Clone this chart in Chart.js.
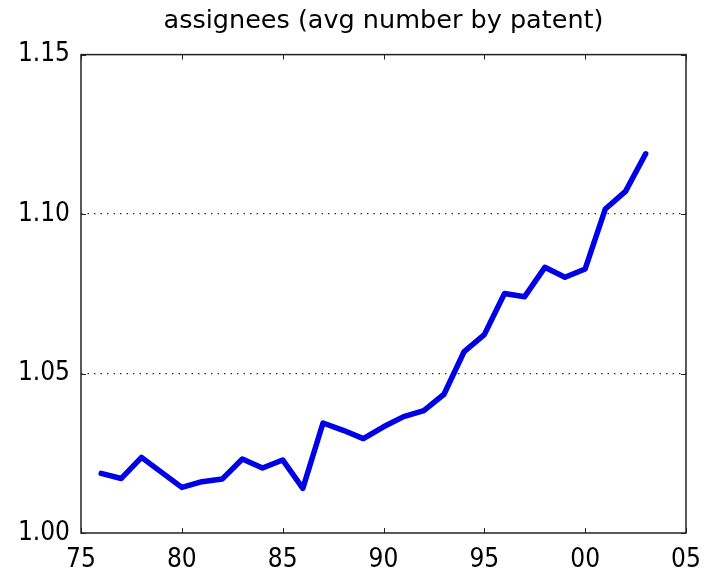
<!DOCTYPE html>
<html>
<head>
<meta charset="utf-8">
<script src="https://cdn.jsdelivr.net/npm/chart.js@4"></script>
<style>
  html, body { margin: 0; padding: 0; background: #fff; }
  #wrap { width: 704px; height: 578px; }
</style>
</head>
<body>
<div id="wrap"><canvas id="myChart" width="704" height="578"></canvas></div>
<script>
// years (19xx / 20xx) and average assignees per patent
var years = [1976, 1977, 1978, 1979, 1980, 1981, 1982, 1983, 1984, 1985, 1986, 1987, 1988, 1989,
             1990, 1991, 1992, 1993, 1994, 1995, 1996, 1997, 1998, 1999, 2000, 2001, 2002, 2003];
var assignees = [1.0187, 1.0171, 1.0237, 1.0190, 1.0143, 1.0161, 1.0169, 1.0232, 1.0204, 1.0229,
                 1.0140, 1.0345, 1.0322, 1.0296, 1.0333, 1.0365, 1.0384, 1.0435, 1.0569, 1.0622,
                 1.0751, 1.0741, 1.0833, 1.0802, 1.0828, 1.1016, 1.1071, 1.1189];
var xTicks = [1975, 1980, 1985, 1990, 1995, 2000, 2005];
var yTicks = [1.00, 1.05, 1.10, 1.15];
var titleText = 'assignees (avg number by patent)';

var points = [];
for (var i = 0; i < years.length; i++) {
    points.push({x: years[i], y: assignees[i]});
}

// box around plot plus short inward ticks on all four sides
var framePlugin = {
    id: 'frame',
    afterDraw: function(chart) {
        var ctx = chart.ctx, a = chart.chartArea;
        var xs = chart.scales.x, ys = chart.scales.y;
        var len = 5;
        ctx.save();
        ctx.strokeStyle = '#222';
        ctx.lineWidth = 1.5;
        ctx.strokeRect(a.left, a.top, a.right - a.left, a.bottom - a.top);
        ctx.lineWidth = 1;
        ctx.beginPath();
        xTicks.forEach(function(t) {
            var px = Math.round(xs.getPixelForValue(t)) + 0.5;
            ctx.moveTo(px, a.bottom); ctx.lineTo(px, a.bottom - len);
            ctx.moveTo(px, a.top); ctx.lineTo(px, a.top + len);
        });
        yTicks.forEach(function(t) {
            var py = Math.round(ys.getPixelForValue(t)) + 0.5;
            ctx.moveTo(a.left, py); ctx.lineTo(a.left + len, py);
            ctx.moveTo(a.right, py); ctx.lineTo(a.right - len, py);
        });
        ctx.stroke();
        ctx.restore();
    }
};

var tickFont = {family: '"DejaVu Sans Condensed", "DejaVu Sans", sans-serif', size: 26};

var ctx = document.getElementById('myChart').getContext('2d');
var myChart = new Chart(ctx, {
    type: 'line',
    data: {
        datasets: [{
            label: 'assignees',
            data: points,
            borderColor: '#0000E6',
            backgroundColor: '#0000E6',
            borderWidth: 5.5,
            pointRadius: 0,
            tension: 0,
            borderJoinStyle: 'round',
            borderCapStyle: 'round'
        }]
    },
    options: {
        responsive: false,
        animation: false,
        layout: {padding: {left: 0, right: 18, top: 0, bottom: 0}},
        plugins: {
            legend: {display: false},
            tooltip: {enabled: false},
            title: {
                display: true,
                text: titleText,
                fullSize: false,
                color: '#000',
                font: {family: '"DejaVu Sans", sans-serif', size: 25.5, weight: 'normal'},
                padding: {top: 6, bottom: 18}
            }
        },
        scales: {
            x: {
                type: 'linear',
                min: 1975,
                max: 2005,
                afterBuildTicks: function(scale) {
                    scale.ticks = xTicks.map(function(v) { return {value: v}; });
                },
                afterFit: function(scale) {
                    scale.height = 45;
                    scale.paddingLeft = 0;
                    scale.paddingRight = 0;
                },
                grid: {display: false, drawTicks: false},
                border: {display: false},
                ticks: {
                    color: '#000',
                    font: tickFont,
                    padding: 12,
                    maxRotation: 0,
                    autoSkip: false,
                    callback: function(v) { return String(v).slice(2); }
                }
            },
            y: {
                min: 1.00,
                max: 1.15,
                afterBuildTicks: function(scale) {
                    scale.ticks = yTicks.map(function(v) { return {value: v}; });
                },
                afterFit: function(scale) { scale.width = 81; },
                grid: {
                    drawTicks: false,
                    lineWidth: 1.2,
                    color: function(c) {
                        var v = c.tick ? c.tick.value : null;
                        if (v === null || Math.abs(v - 1.00) < 1e-6 || Math.abs(v - 1.15) < 1e-6) return 'rgba(0,0,0,0)';
                        return '#333';
                    }
                },
                border: {display: false, dash: [1.5, 5]},
                ticks: {
                    color: '#000',
                    font: tickFont,
                    padding: 11,
                    callback: function(v) { return Number(v).toFixed(2); }
                }
            }
        }
    },
    plugins: [framePlugin]
});
</script>
</body>
</html>
